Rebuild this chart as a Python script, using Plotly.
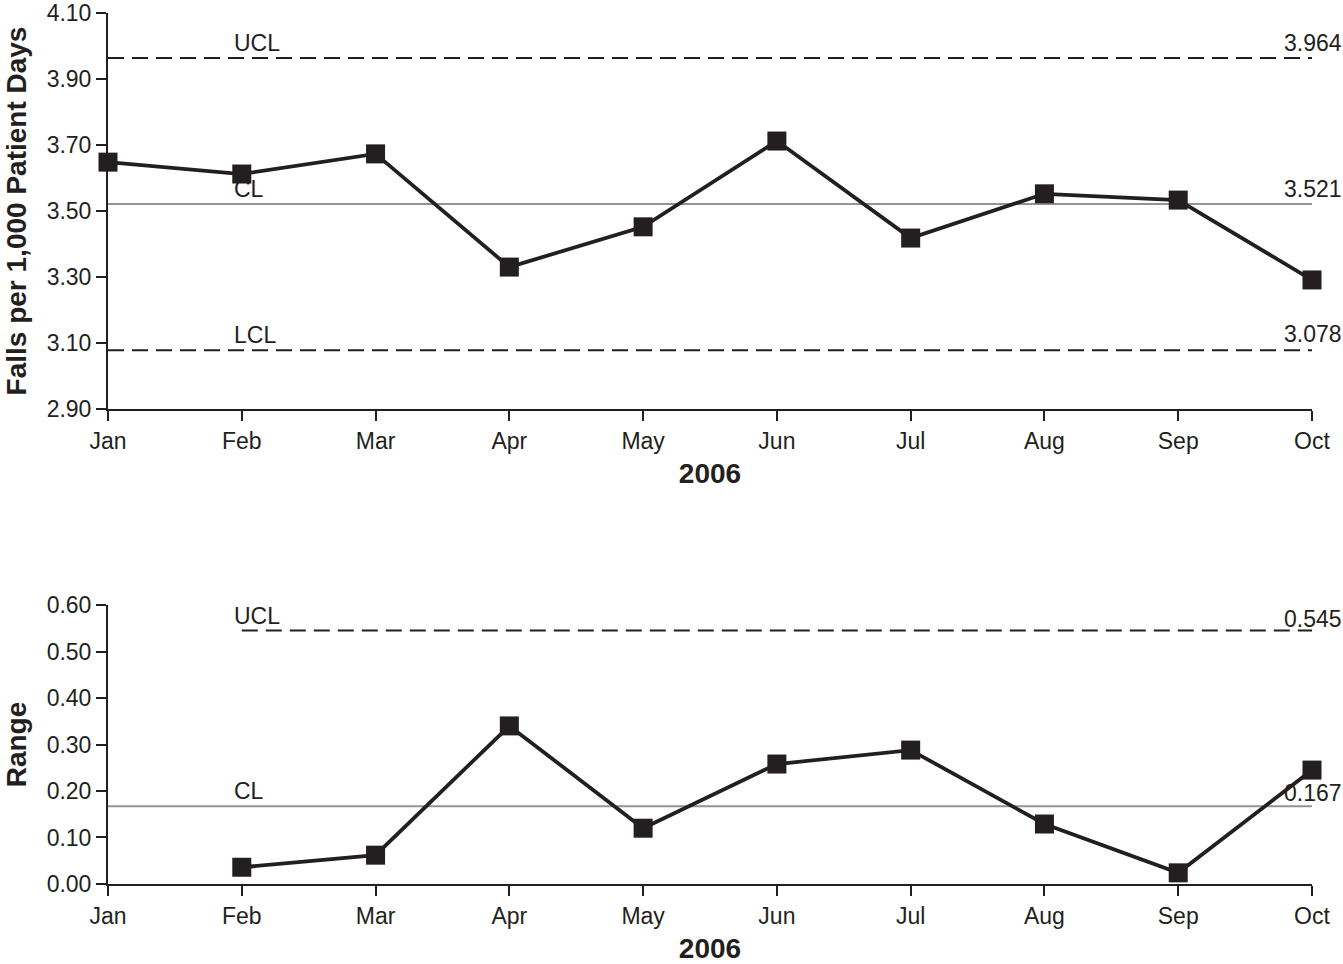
import plotly.graph_objects as go
from plotly.subplots import make_subplots

months = ["Jan", "Feb", "Mar", "Apr", "May", "Jun", "Jul", "Aug", "Sep", "Oct"]
falls = [3.648, 3.612, 3.673, 3.330, 3.452, 3.712, 3.418, 3.552, 3.533, 3.291]
ranges_months = ["Feb", "Mar", "Apr", "May", "Jun", "Jul", "Aug", "Sep", "Oct"]
ranges = [0.036, 0.062, 0.340, 0.120, 0.258, 0.288, 0.129, 0.024, 0.245]

x_ucl, x_cl, x_lcl = 3.964, 3.521, 3.078
r_ucl, r_cl = 0.545, 0.167

top_ticks = [2.90, 3.10, 3.30, 3.50, 3.70, 3.90, 4.10]
bot_ticks = [0.00, 0.10, 0.20, 0.30, 0.40, 0.50, 0.60]

FONT = "Liberation Sans, Arial, Helvetica, sans-serif"
BLACK = "#231f20"
GRAY = "#939393"
DASH = "16px,8px"

fig = make_subplots(rows=2, cols=1, vertical_spacing=0.2)

def hline(xs, y, dash, color, width, row):
    fig.add_trace(go.Scatter(x=xs, y=[y] * len(xs), mode="lines",
                             line=dict(color=color, width=width, dash=dash),
                             hoverinfo="skip", showlegend=False, cliponaxis=False), row=row, col=1)

# Top chart
hline([months[0], months[-1]], x_ucl, DASH, BLACK, 2, 1)
hline([months[0], months[-1]], x_cl, "solid", GRAY, 2, 1)
hline([months[0], months[-1]], x_lcl, DASH, BLACK, 2, 1)
fig.add_trace(go.Scatter(x=months, y=falls, mode="lines+markers",
                         line=dict(color=BLACK, width=3.8),
                         marker=dict(symbol="square", size=19, color=BLACK),
                         showlegend=False, cliponaxis=False), row=1, col=1)

# Bottom chart
hline([ranges_months[0], months[-1]], r_ucl, DASH, BLACK, 2, 2)
hline([months[0], months[-1]], r_cl, "solid", GRAY, 2, 2)
fig.add_trace(go.Scatter(x=ranges_months, y=ranges, mode="lines+markers",
                         line=dict(color=BLACK, width=3.8),
                         marker=dict(symbol="square", size=19, color=BLACK),
                         showlegend=False, cliponaxis=False), row=2, col=1)

ann_font = dict(family=FONT, size=23, color=BLACK)
def labels(row, items):
    xr = "x" if row == 1 else "x2"
    yr = "y" if row == 1 else "y2"
    for name, val, ys_name, ys_val in items:
        fig.add_annotation(x="Feb", y=val, xref=xr, yref=yr, text=name, showarrow=False,
                           xanchor="left", yanchor="bottom", xshift=-10, yshift=ys_name, font=ann_font)
        fig.add_annotation(x="Oct", y=val, xref=xr, yref=yr, text=f"{val:.3f}", showarrow=False,
                           xanchor="right", yanchor="bottom", xshift=32, yshift=ys_val, font=ann_font)

labels(1, [("UCL", x_ucl, 0, 0), ("CL", x_cl, 0, 0), ("LCL", x_lcl, 0, 1)])
labels(2, [("UCL", r_ucl, 0, -3), ("CL", r_cl, 0, -2)])

axis_common = dict(showgrid=False, zeroline=False, showline=True, linecolor=BLACK, linewidth=2,
                   ticks="outside", ticklen=10, tickwidth=2, tickcolor=BLACK, automargin=False,
                   tickfont=dict(family=FONT, size=23, color=BLACK))

fig.update_xaxes(**axis_common, type="category", categoryorder="array", categoryarray=months,
                 range=[0, 9], title=dict(text="<b>2006</b>", font=dict(family=FONT, size=28, color=BLACK), standoff=11))
fig.update_xaxes(ticklabelstandoff=0)
fig.update_yaxes(**axis_common)
fig.update_yaxes(range=[2.90, 4.10], tickvals=top_ticks, ticktext=[f"{t:.2f}" for t in top_ticks],
                 title=dict(text="<b>Falls per 1,000 Patient Days</b>", font=dict(family=FONT, size=28, color=BLACK), standoff=12),
                 row=1, col=1)
fig.update_yaxes(range=[0.0, 0.60], tickvals=bot_ticks, ticktext=[f"{t:.2f}" for t in bot_ticks],
                 title=dict(text="<b>Range</b>", font=dict(family=FONT, size=28, color=BLACK), standoff=12),
                 row=2, col=1)

fig.update_layout(
    width=1343, height=964,
    margin=dict(l=108, r=31, t=13, b=80),
    plot_bgcolor="white", paper_bgcolor="white",
    font=dict(family=FONT, color=BLACK),
    showlegend=False,
)
fig.layout.yaxis.domain = [0.5454, 1.0]
fig.layout.yaxis2.domain = [0.0, 0.3203]

fig.write_html("out.html", config={"displayModeBar": False},
               post_script="document.body.style.margin='0px';document.body.style.overflow='hidden';")
